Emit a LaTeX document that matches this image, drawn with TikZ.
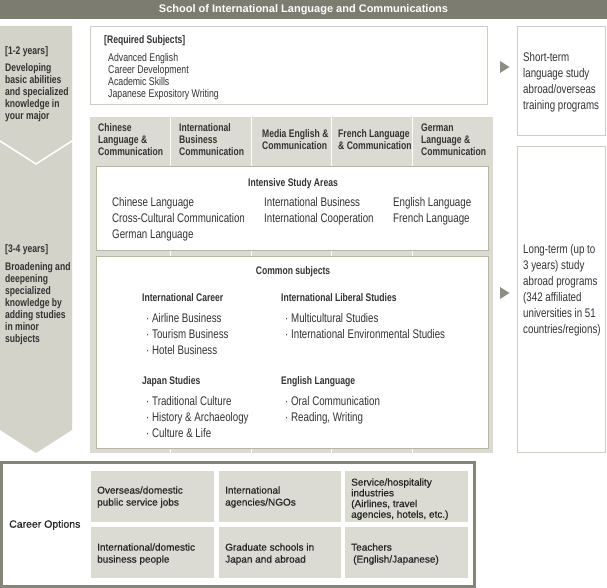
\documentclass[tikz,border=0pt]{standalone}
\usepackage{fontspec}
\setmainfont{Liberation Sans}
\newfontfamily\condfont{Liberation Sans}[FakeStretch=0.78]
\newfontfamily\cellfont{Liberation Sans}[FakeBold=0.7]
\definecolor{titlegray}{HTML}{7D7C70}
\definecolor{panelgray}{HTML}{D4D3CA}
\definecolor{blockgray}{HTML}{DCDBD3}
\definecolor{boxline}{HTML}{CECDC4}
\definecolor{arealine}{HTML}{B8B7A0}
\definecolor{careerline}{HTML}{858478}
\definecolor{arrowgray}{HTML}{8E8D84}
\definecolor{ink}{HTML}{333333}

\begin{document}
\begin{tikzpicture}[x=1pt,y=-1pt,
  every node/.style={inner sep=0pt,text=ink},
  txt/.style={anchor=base west,font=\condfont\fontsize{12.5}{16}\selectfont},
  small/.style={anchor=north west,align=left,font=\condfont\fontsize{11.2}{12}\selectfont},
  hd/.style={anchor=base west,font=\condfont\bfseries\fontsize{11}{12}\selectfont},
  hdblock/.style={hd,anchor=north west,align=left},
  txtblock/.style={txt,anchor=north west,align=left},
  cell/.style={anchor=north west,align=left,font=\cellfont\fontsize{10}{12}\selectfont,text=black!85},
  cellbox/.style={fill=blockgray},
  areabox/.style={draw=arealine,fill=white,line width=1pt},
  sidebox/.style={draw=boxline,fill=white,line width=1pt}]
\useasboundingbox (0,0) rectangle (607,588);

\fill [titlegray] (0,0) rectangle (607,19.5);
\node (title) [text=white,font=\bfseries\fontsize{11}{13}\selectfont] at (303.5,10) {School of International Language and Communications};

\fill [panelgray] (0,26) -- (72,26) -- (72,430) -- (36,453) -- (0,430) -- cycle;
\draw [white,line width=1.5pt] (0,141) -- (36,164) -- (72,141);
\node (yrsA) [hd] at (5,54.6) {[1-2 years]};
\node (descA) [hdblock] at (5,63.8) {Developing\\basic abilities\\and specialized\\knowledge in\\your major};
\node (yrsB) [hd] at (5,252.6) {[3-4 years]};
\node (descB) [hdblock] at (5,262.8) {Broadening and\\deepening\\specialized\\knowledge by\\adding studies\\in minor\\subjects};

\draw [sidebox] (90.5,26.5) rectangle (487,105);
\node (reqTitle) [hd] at (104,43.6) {[Required Subjects]};
\node (reqList) [small] at (108,52.8) {Advanced English\\Career Development\\Academic Skills\\Japanese Expository Writing};

\fill [blockgray] (90,117) rectangle (493,453);
\foreach \x in {170.6,251.2,331.8,412.4}
  \draw [white,line width=1pt] (\x,117) -- (\x,453);
\node (majChinese) [hdblock] at (98,123.8) {Chinese\\Language \&\\Communication};
\node (majBusiness) [hdblock] at (179,123.8) {International\\Business\\Communication};
\node (majMedia) [hdblock] at (262,129.8) {Media English \&\\Communication};
\node (majFrench) [hdblock] at (338,129.8) {French Language\\\& Communication};
\node (majGerman) [hdblock] at (421,123.8) {German\\Language \&\\Communication};

\draw [areabox] (96.5,166.5) rectangle (488.5,250);
\node (areaTitle) [hd,anchor=base] at (293,186.6) {Intensive Study Areas};
\node (areaChinese) [txt] at (112,206.7) {Chinese Language};
\node (areaCross) [txt] at (112,222.7) {Cross-Cultural Communication};
\node (areaGerman) [txt] at (112,238.7) {German Language};
\node (areaBusiness) [txt] at (264,206.7) {International Business};
\node (areaCoop) [txt] at (264,222.7) {International Cooperation};
\node (areaEnglish) [txt] at (393,206.7) {English Language};
\node (areaFrench) [txt] at (393,222.7) {French Language};

\draw [areabox] (96.5,256) rectangle (488.5,448);
\node (comTitle) [hd,anchor=base] at (293,274.6) {Common subjects};
\node (comCareer) [hd] at (142,301.6) {International Career};
\node (comAirline) [txt] at (146,322.3) {· Airline Business};
\node (comTourism) [txt] at (146,338.3) {· Tourism Business};
\node (comHotel) [txt] at (146,354.3) {· Hotel Business};
\node (comLiberal) [hd] at (281,301.6) {International Liberal Studies};
\node (comMulti) [txt] at (285,322.3) {· Multicultural Studies};
\node (comEnv) [txt] at (285,338.3) {· International Environmental Studies};
\node (comJapan) [hd] at (142,384.6) {Japan Studies};
\node (comTrad) [txt] at (146,405.3) {· Traditional Culture};
\node (comHist) [txt] at (146,421.3) {· History \& Archaeology};
\node (comLife) [txt] at (146,437.3) {· Culture \& Life};
\node (comEnglish) [hd] at (281,384.6) {English Language};
\node (comOral) [txt] at (285,405.3) {· Oral Communication};
\node (comRead) [txt] at (285,421.3) {· Reading, Writing};

\fill [arrowgray] (500,61) -- (509.5,67) -- (500,73) -- cycle;
\fill [arrowgray] (500,287) -- (509.5,293) -- (500,299) -- cycle;
\draw [sidebox] (517.5,26.5) rectangle (605.5,136);
\node (shortTerm) [txtblock] at (523,52.3) {Short-term\\language study\\abroad/overseas\\training programs};
\draw [sidebox] (517.5,146.5) rectangle (605.5,452.5);
\node (longTerm) [txtblock] at (523,244.3) {Long-term (up to\\3 years) study\\abroad programs\\(342 affiliated\\universities in 51\\countries/regions)};

\draw [careerline,fill=white,line width=3pt] (1.5,462.5) rectangle (474.5,586.5);
\node (careerTitle) [anchor=base west,font=\cellfont\fontsize{10.5}{12}\selectfont,text=black!85] at (9,527.7) {Career Options};
\foreach \xa/\xb in {91/214,219/341,345/468}{
  \fill [cellbox] (\xa,471) rectangle (\xb,522);
  \fill [cellbox] (\xa,527) rectangle (\xb,578);
}
\node (jobPublic) [cell] at (97,486.2) {Overseas/domestic\\public service jobs};
\node (jobNGO) [cell] at (225,486.2) {International\\agencies/NGOs};
\node (jobService) [cell,font=\cellfont\fontsize{10}{10.7}\selectfont] at (351,478.2) {Service/hospitality\\industries\\(Airlines, travel\\agencies, hotels, etc.)};
\node (jobBusiness) [cell] at (97,543.2) {International/domestic\\business people};
\node (jobGraduate) [cell] at (225,543.2) {Graduate schools in\\Japan and abroad};
\node (jobTeacher) [cell] at (351,543.2) {Teachers\\\hspace{2pt}(English/Japanese)};
\end{tikzpicture}
\end{document}
